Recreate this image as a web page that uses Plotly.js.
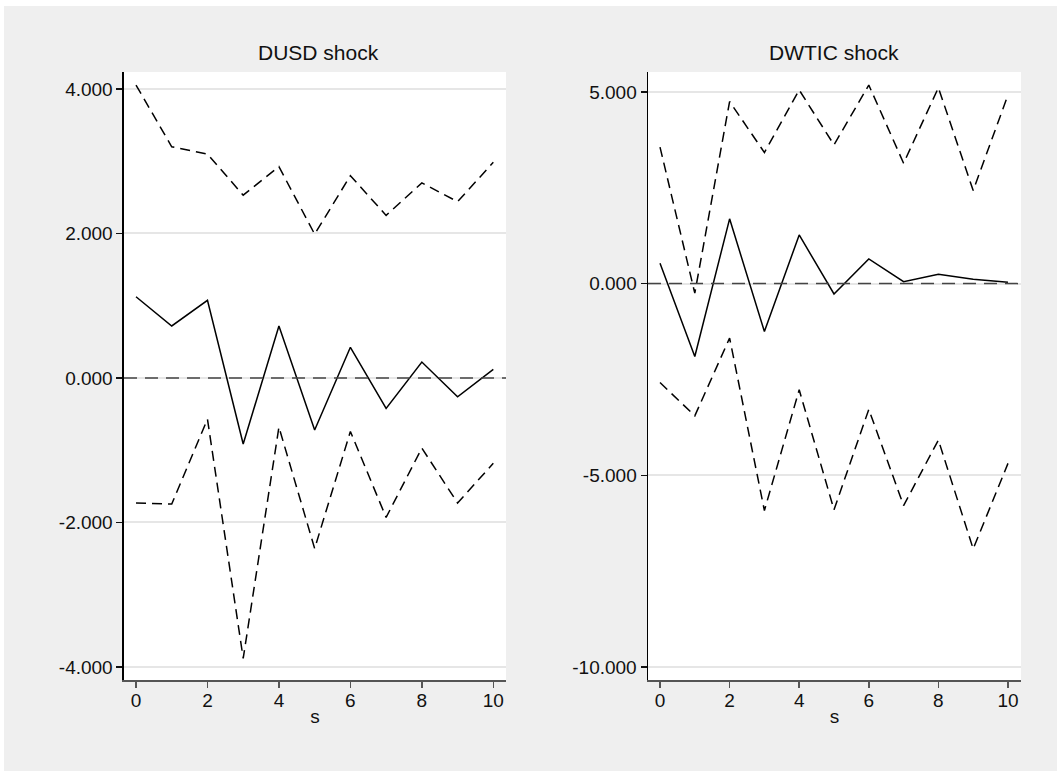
<!DOCTYPE html>
<html>
<head>
<meta charset="utf-8">
<script src="https://cdn.plot.ly/plotly-3.0.1.min.js"></script>
<style>
  html, body { margin: 0; padding: 0; background: #ffffff; }
  #chart { position: absolute; left: 4px; top: 6px; width: 1053px; height: 765px; }
</style>
</head>
<body>
<div id="chart"></div>
<script>
// Horizon steps
const steps = [0, 1, 2, 3, 4, 5, 6, 7, 8, 9, 10];

// DUSD shock panel
const dusdIrf   = [1.125, 0.72, 1.075, -0.913, 0.72, -0.72, 0.425, -0.42, 0.22, -0.26, 0.12];
const dusdUpper = [4.055, 3.20, 3.10, 2.53, 2.925, 1.99, 2.80, 2.25, 2.70, 2.44, 2.985];
const dusdLower = [-1.73, -1.745, -0.57, -3.88, -0.68, -2.36, -0.74, -1.93, -0.97, -1.73, -1.18];

// DWTIC shock panel
const dwticIrf   = [0.53, -1.90, 1.69, -1.25, 1.27, -0.27, 0.645, 0.05, 0.245, 0.115, 0.035];
const dwticUpper = [3.56, -0.25, 4.75, 3.42, 5.05, 3.62, 5.18, 3.14, 5.11, 2.43, 4.92];
const dwticLower = [-2.58, -3.45, -1.42, -5.92, -2.77, -5.90, -3.28, -5.79, -4.08, -6.92, -4.69];

const panelTitles = ["DUSD shock", "DWTIC shock"];
const xTicks = [0, 2, 4, 6, 8, 10];
const yTicksLeft = [-4, -2, 0, 2, 4];
const yTicksRight = [-10, -5, 0, 5];

const FONT = "Liberation Sans, Arial, sans-serif";
const solid = {color: "#000000", width: 1.5};
const dashed = {color: "#000000", width: 1.5, dash: "10px,6px"};

function mk(y, line, xa, ya) {
  return {x: steps, y: y, type: "scatter", mode: "lines", line: line,
          xaxis: xa, yaxis: ya, showlegend: false, hoverinfo: "skip"};
}

const traces = [
  mk(dusdUpper, dashed, "x", "y"),
  mk(dusdIrf, solid, "x", "y"),
  mk(dusdLower, dashed, "x", "y"),
  mk(dwticUpper, dashed, "x2", "y2"),
  mk(dwticIrf, solid, "x2", "y2"),
  mk(dwticLower, dashed, "x2", "y2")
];

function xAxis(domain, range, anchor) {
  return {
    domain: domain, range: range, anchor: anchor,
    tickvals: xTicks, ticktext: xTicks.map(String),
    ticks: "outside", ticklen: 6, tickwidth: 1.5, tickcolor: "#555555",
    ticklabelstandoff: -4,
    showline: true, linecolor: "#555555", linewidth: 2,
    showgrid: false, zeroline: false,
    tickfont: {family: FONT, size: 19, color: "#111111"},
    title: {text: "s", font: {family: FONT, size: 19, color: "#111111"}, standoff: 0}
  };
}
function yAxis(domain, range, anchor, vals) {
  return {
    domain: domain, range: range, anchor: anchor,
    tickvals: vals, ticktext: vals.map(v => v.toFixed(3)),
    ticks: "outside", ticklen: 6, tickwidth: 1.5, tickcolor: "#111111",
    showline: true, linecolor: "#000000", linewidth: 1.5,
    showgrid: true, gridcolor: "#e6e6e6", gridwidth: 2,
    zeroline: false,
    tickfont: {family: FONT, size: 19, color: "#111111"}
  };
}

const yDom = [0.11895, 0.91373];
const layout = {
  width: 1053, height: 765,
  margin: {l: 0, r: 0, t: 0, b: 0},
  paper_bgcolor: "#efefef",
  plot_bgcolor: "#ffffff",
  showlegend: false,
  xaxis: xAxis([0.11396, 0.47673], [-0.336, 10.355], "y"),
  yaxis: yAxis(yDom, [-4.18, 4.235], "x", yTicksLeft),
  xaxis2: xAxis([0.61159, 0.96581], [-0.345, 10.374], "y2"),
  yaxis2: yAxis(yDom, [-10.34, 5.52], "x2", yTicksRight),
  shapes: [
    {type: "line", xref: "x domain", yref: "y", x0: 0, x1: 1, y0: 0, y1: 0,
     line: {color: "#444444", width: 1.5, dash: "13px,8px"}, layer: "above"},
    {type: "line", xref: "x2 domain", yref: "y2", x0: 0, x1: 1, y0: 0, y1: 0,
     line: {color: "#444444", width: 1.5, dash: "13px,8px"}, layer: "above"}
  ],
  annotations: [
    {text: panelTitles[0], xref: "paper", yref: "paper", x: 0.2991, y: 0.9386,
     xanchor: "center", yanchor: "middle", showarrow: false,
     font: {family: FONT, size: 21, color: "#111111"}},
    {text: panelTitles[1], xref: "paper", yref: "paper", x: 0.7879, y: 0.9386,
     xanchor: "center", yanchor: "middle", showarrow: false,
     font: {family: FONT, size: 21, color: "#111111"}}
  ]
};

Plotly.newPlot("chart", traces, layout, {displayModeBar: false, staticPlot: true});
</script>
</body>
</html>
